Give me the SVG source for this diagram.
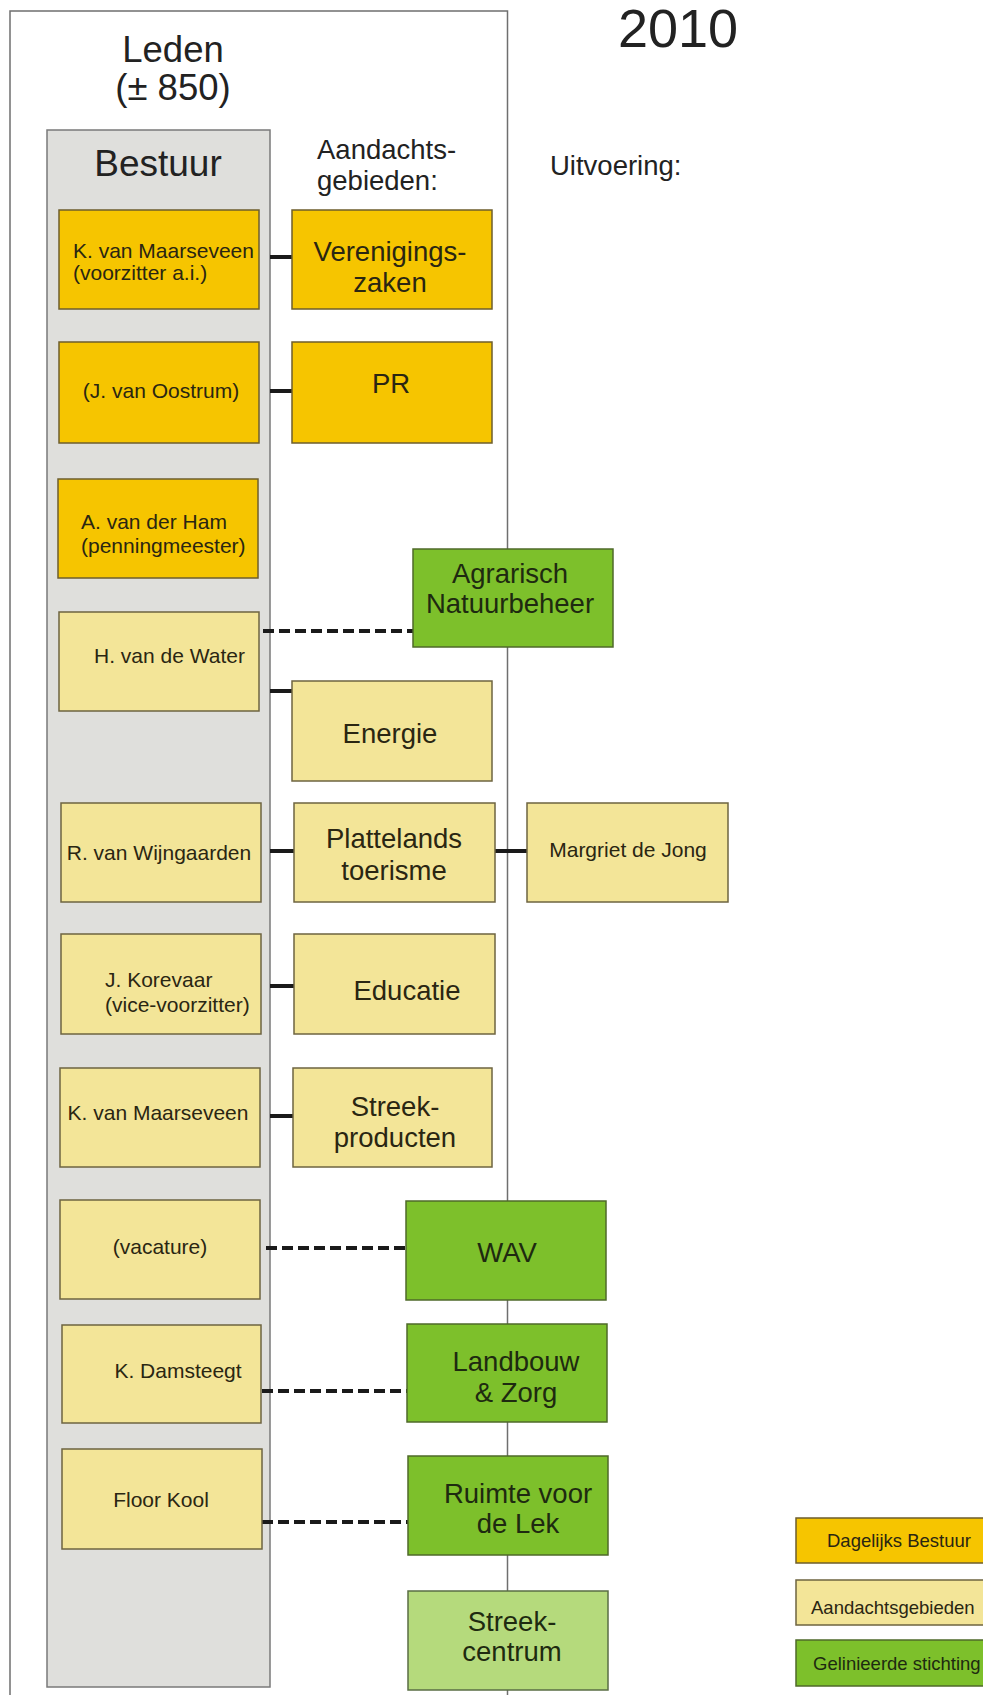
<svg xmlns="http://www.w3.org/2000/svg" width="983" height="1695" viewBox="0 0 983 1695">
<style>
text{font-family:"Liberation Sans",Arial,sans-serif;fill:#222;}
.n{font-size:21px;fill:#2a2612;}
.b{font-size:27.5px;fill:#2a2612;}
.g{font-size:27.5px;fill:#1e2a10;}
.lg{font-size:18.5px;fill:#2a2612;}
.lgg{font-size:18.5px;fill:#1e2a10;}
.h{font-size:27.5px;}
.c{text-anchor:middle;}
.y{fill:#f6c500;stroke:#6e5e2c;stroke-width:1.5;}
.ly{fill:#f3e598;stroke:#6e6440;stroke-width:1.5;}
.gr{fill:#7dc02b;stroke:#4f6a2a;stroke-width:1.5;}
.lgr{fill:#b5da7c;stroke:#5a6e44;stroke-width:1.5;}
.solid{stroke:#1a1a1a;stroke-width:4;fill:none;}
.dash{stroke:#1a1a1a;stroke-width:4;fill:none;stroke-dasharray:11 5;}
</style>
<rect width="983" height="1695" fill="#ffffff"/>
<g id="frame">
<rect x="10" y="11" width="497.5" height="1700" fill="none" stroke="#6f6f6f" stroke-width="1.5"/>
<text x="173" y="62" class="c" font-size="36.5">Leden</text>
<text x="173" y="100" class="c" font-size="36.5">(± 850)</text>
<text x="678" y="47" class="c" font-size="54">2010</text>
<text x="317" y="159" class="h">Aandachts-</text>
<text x="317" y="190" class="h">gebieden:</text>
<text x="550" y="175" class="h">Uitvoering:</text>
</g>
<g id="bestuur">
<rect x="47" y="130" width="223" height="1557" fill="#dfdfdc" stroke="#7a7a7a" stroke-width="1.5"/>
<text x="158" y="176" class="c" font-size="37">Bestuur</text>
</g>
<g id="connectors">
<line class="solid" x1="270" y1="257" x2="292" y2="257"/>
<line class="solid" x1="270" y1="391" x2="292" y2="391"/>
<line class="solid" x1="270" y1="691" x2="292" y2="691"/>
<line class="solid" x1="270" y1="851" x2="294" y2="851"/>
<line class="solid" x1="495" y1="851" x2="527" y2="851"/>
<line class="solid" x1="270" y1="986" x2="294" y2="986"/>
<line class="solid" x1="270" y1="1116" x2="293" y2="1116"/>
<line class="dash" x1="263" y1="631" x2="413" y2="631"/>
<line class="dash" x1="266" y1="1248" x2="406" y2="1248"/>
<line class="dash" x1="262" y1="1391" x2="407" y2="1391"/>
<line class="dash" x1="262" y1="1522" x2="408" y2="1522"/>
</g>
<g id="n-maarseveen1"><rect class="y" x="59" y="210" width="200" height="99"/><text class="n" x="73" y="258">K. van Maarseveen</text><text class="n" x="73" y="280">(voorzitter a.i.)</text></g>
<g id="n-oostrum"><rect class="y" x="59" y="342" width="200" height="101"/><text class="n c" x="161" y="398">(J. van Oostrum)</text></g>
<g id="n-vanderham"><rect class="y" x="58" y="479" width="200" height="99"/><text class="n" x="81" y="529">A. van der Ham</text><text class="n" x="81" y="553">(penningmeester)</text></g>
<g id="n-vandewater"><rect class="ly" x="59" y="612" width="200" height="99"/><text class="n" x="94" y="663">H. van de Water</text></g>
<g id="n-wijngaarden"><rect class="ly" x="61" y="803" width="200" height="99"/><text class="n c" x="159" y="860">R. van Wijngaarden</text></g>
<g id="n-korevaar"><rect class="ly" x="61" y="934" width="200" height="100"/><text class="n" x="105" y="987">J. Korevaar</text><text class="n" x="105" y="1012">(vice-voorzitter)</text></g>
<g id="n-maarseveen2"><rect class="ly" x="60" y="1068" width="200" height="99"/><text class="n c" x="158" y="1120">K. van Maarseveen</text></g>
<g id="n-vacature"><rect class="ly" x="60" y="1200" width="200" height="99"/><text class="n c" x="160" y="1254">(vacature)</text></g>
<g id="n-damsteegt"><rect class="ly" x="62" y="1325" width="199" height="98"/><text class="n c" x="178" y="1378">K. Damsteegt</text></g>
<g id="n-floorkool"><rect class="ly" x="62" y="1449" width="200" height="100"/><text class="n c" x="161" y="1507">Floor Kool</text></g>
<g id="a-verenigingszaken"><rect class="y" x="292" y="210" width="200" height="99"/><text class="b c" x="390" y="261">Verenigings-</text><text class="b c" x="390" y="292">zaken</text></g>
<g id="a-pr"><rect class="y" x="292" y="342" width="200" height="101"/><text class="b c" x="391" y="393">PR</text></g>
<g id="a-energie"><rect class="ly" x="292" y="681" width="200" height="100"/><text class="b c" x="390" y="743">Energie</text></g>
<g id="a-plattelands"><rect class="ly" x="294" y="803" width="201" height="99"/><text class="b c" x="394" y="848">Plattelands</text><text class="b c" x="394" y="880">toerisme</text></g>
<g id="a-educatie"><rect class="ly" x="294" y="934" width="201" height="100"/><text class="b c" x="407" y="1000">Educatie</text></g>
<g id="a-streekproducten"><rect class="ly" x="293" y="1068" width="199" height="99"/><text class="b c" x="395" y="1116">Streek-</text><text class="b c" x="395" y="1147">producten</text></g>
<g id="u-margriet"><rect class="ly" x="527" y="803" width="201" height="99"/><text class="n c" x="628" y="857">Margriet de Jong</text></g>
<g id="s-agrarisch"><rect class="gr" x="413" y="549" width="200" height="98"/><text class="g c" x="510" y="583">Agrarisch</text><text class="g c" x="510" y="613">Natuurbeheer</text></g>
<g id="s-wav"><rect class="gr" x="406" y="1201" width="200" height="99"/><text class="g c" x="507" y="1262">WAV</text></g>
<g id="s-landbouw"><rect class="gr" x="407" y="1324" width="200" height="98"/><text class="g c" x="516" y="1371">Landbouw</text><text class="g c" x="516" y="1402">&amp; Zorg</text></g>
<g id="s-ruimte"><rect class="gr" x="408" y="1456" width="200" height="99"/><text class="g c" x="518" y="1503">Ruimte voor</text><text class="g c" x="518" y="1533">de Lek</text></g>
<g id="s-streekcentrum"><rect class="lgr" x="408" y="1591" width="200" height="99"/><text class="g c" x="512" y="1631">Streek-</text><text class="g c" x="512" y="1661">centrum</text></g>
<g id="legend">
<g id="legend-db"><rect class="y" x="796" y="1518" width="200" height="45"/><text class="lg" x="827" y="1547">Dagelijks Bestuur</text></g>
<g id="legend-ag"><rect class="ly" x="796" y="1580" width="200" height="45"/><text class="lg" x="811" y="1614">Aandachtsgebieden</text></g>
<g id="legend-gs"><rect class="gr" x="796" y="1640" width="200" height="46"/><text class="lgg" x="813" y="1670">Gelinieerde stichting</text></g>
</g>
</svg>
